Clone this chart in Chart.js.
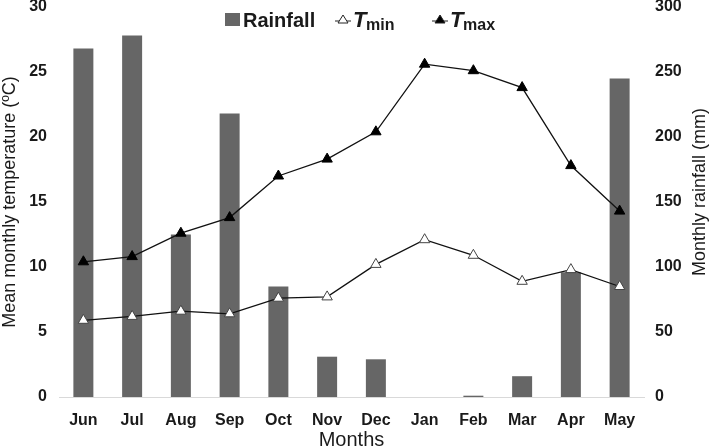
<!DOCTYPE html>
<html>
<head>
<meta charset="utf-8">
<script src="https://cdn.jsdelivr.net/npm/chart.js@4.4.1/dist/chart.umd.min.js"></script>
<style>
  html, body { margin: 0; padding: 0; background: #fff; }
  #wrap { width: 709px; height: 447px; position: relative; }
</style>
</head>
<body>
<div id="wrap"><canvas id="chart"></canvas></div>
<script>
var months = ["Jun", "Jul", "Aug", "Sep", "Oct", "Nov", "Dec", "Jan", "Feb", "Mar", "Apr", "May"];
var rainfall = [268, 278, 125, 218, 85, 31, 29, 0, 1, 16, 96, 245];
var tmin = [5.9, 6.2, 6.6, 6.4, 7.6, 7.7, 10.2, 12.1, 10.9, 8.9, 9.8, 8.5];
var tmax = [10.4, 10.8, 12.6, 13.8, 17.0, 18.3, 20.4, 25.6, 25.1, 23.8, 17.8, 14.3];
var tempTicks = [0, 5, 10, 15, 20, 25, 30];
var rainTicks = [0, 50, 100, 150, 200, 250, 300];

var textColor = "#1a1a1a";
var fontFamily = "'Liberation Sans', Arial, sans-serif";
var tickFont = { family: fontFamily, size: 16, weight: "bold" };
var titleFont = { family: fontFamily, size: 18 };

// custom legend (Tmin / Tmax need subscripts) and right axis title read bottom-up
var extrasPlugin = {
    id: "extras",
    afterDraw: function (chart) {
        var ctx = chart.ctx;
        ctx.save();
        ctx.textBaseline = "alphabetic";
        ctx.fillStyle = "#666666";
        ctx.fillRect(225, 13, 15, 13);
        ctx.fillStyle = textColor;
        ctx.font = "bold 20px " + fontFamily;
        ctx.fillText("Rainfall", 243, 27);

        var items = [
            { x: 343, fill: "#ffffff", label: "min" },
            { x: 440, fill: "#000000", label: "max" }
        ];
        for (var i = 0; i < items.length; i++) {
            var it = items[i];
            ctx.strokeStyle = "#222";
            ctx.lineWidth = 1;
            ctx.beginPath();
            ctx.moveTo(it.x - 8, 21);
            ctx.lineTo(it.x + 8, 21);
            ctx.stroke();
            ctx.beginPath();
            ctx.moveTo(it.x, 15);
            ctx.lineTo(it.x + 5, 23);
            ctx.lineTo(it.x - 5, 23);
            ctx.closePath();
            ctx.fillStyle = it.fill;
            ctx.fill();
            ctx.stroke();
            ctx.fillStyle = textColor;
            ctx.font = "italic bold 22px " + fontFamily;
            ctx.fillText("T", it.x + 10, 27);
            ctx.font = "bold 16px " + fontFamily;
            ctx.fillText(it.label, it.x + 23, 30);
        }

        ctx.translate(700, 192);
        ctx.rotate(-Math.PI / 2);
        ctx.textAlign = "center";
        ctx.textBaseline = "middle";
        ctx.font = "18px " + fontFamily;
        ctx.fillStyle = textColor;
        ctx.fillText("Monthly rainfall (mm)", 0, 0);
        ctx.restore();
    }
};

function fixWidth(w) {
    return function (scale) {
        scale.width = w;
        scale.paddingTop = 0;
        scale.paddingBottom = 0;
    };
}

var ctx = document.getElementById("chart");
var myChart = new Chart(ctx, {
    type: "bar",
    data: {
        labels: months,
        datasets: [
            {
                type: "line",
                label: "Tmin",
                data: tmin,
                yAxisID: "y",
                borderColor: "#111111",
                borderWidth: 1.3,
                pointStyle: "triangle",
                pointRadius: 6,
                pointBackgroundColor: "#ffffff",
                pointBorderColor: "#444444",
                pointBorderWidth: 1,
                tension: 0,
                order: 0
            },
            {
                type: "line",
                label: "Tmax",
                data: tmax,
                yAxisID: "y",
                borderColor: "#111111",
                borderWidth: 1.3,
                pointStyle: "triangle",
                pointRadius: 6,
                pointBackgroundColor: "#000000",
                pointBorderColor: "#000000",
                pointBorderWidth: 1,
                tension: 0,
                order: 0
            },
            {
                label: "Rainfall",
                data: rainfall,
                yAxisID: "y1",
                backgroundColor: "#666666",
                barPercentage: 0.41,
                categoryPercentage: 1,
                order: 1
            }
        ]
    },
    options: {
        responsive: true,
        maintainAspectRatio: false,
        animation: false,
        layout: { padding: { top: 7, left: 0, right: 0, bottom: 0 } },
        plugins: {
            legend: { display: false },
            tooltip: { enabled: false }
        },
        scales: {
            x: {
                grid: { display: false },
                border: { display: true, color: "#d9d9d9", width: 1 },
                ticks: { color: textColor, font: tickFont, padding: 6 },
                title: { display: true, text: "Months", color: textColor, font: { family: fontFamily, size: 20 }, padding: { top: 0, bottom: -5 } },
                afterFit: function (scale) { scale.height = 50; }
            },
            y: {
                position: "left",
                min: 0,
                max: 30,
                afterBuildTicks: function (scale) {
                    scale.ticks = tempTicks.map(function (v) { return { value: v }; });
                },
                grid: { display: false },
                border: { display: false },
                ticks: { color: textColor, font: tickFont, padding: 4 },
                title: { display: true, text: "Mean monthly temperature (ºC)", color: textColor, font: titleFont, padding: { top: -1, bottom: 0 } },
                afterFit: fixWidth(59)
            },
            y1: {
                position: "right",
                min: 0,
                max: 300,
                afterBuildTicks: function (scale) {
                    scale.ticks = rainTicks.map(function (v) { return { value: v }; });
                },
                grid: { display: false },
                border: { display: false },
                ticks: { color: textColor, font: tickFont, padding: 3 },
                afterFit: fixWidth(65)
            }
        }
    },
    plugins: [extrasPlugin]
});
</script>
</body>
</html>
